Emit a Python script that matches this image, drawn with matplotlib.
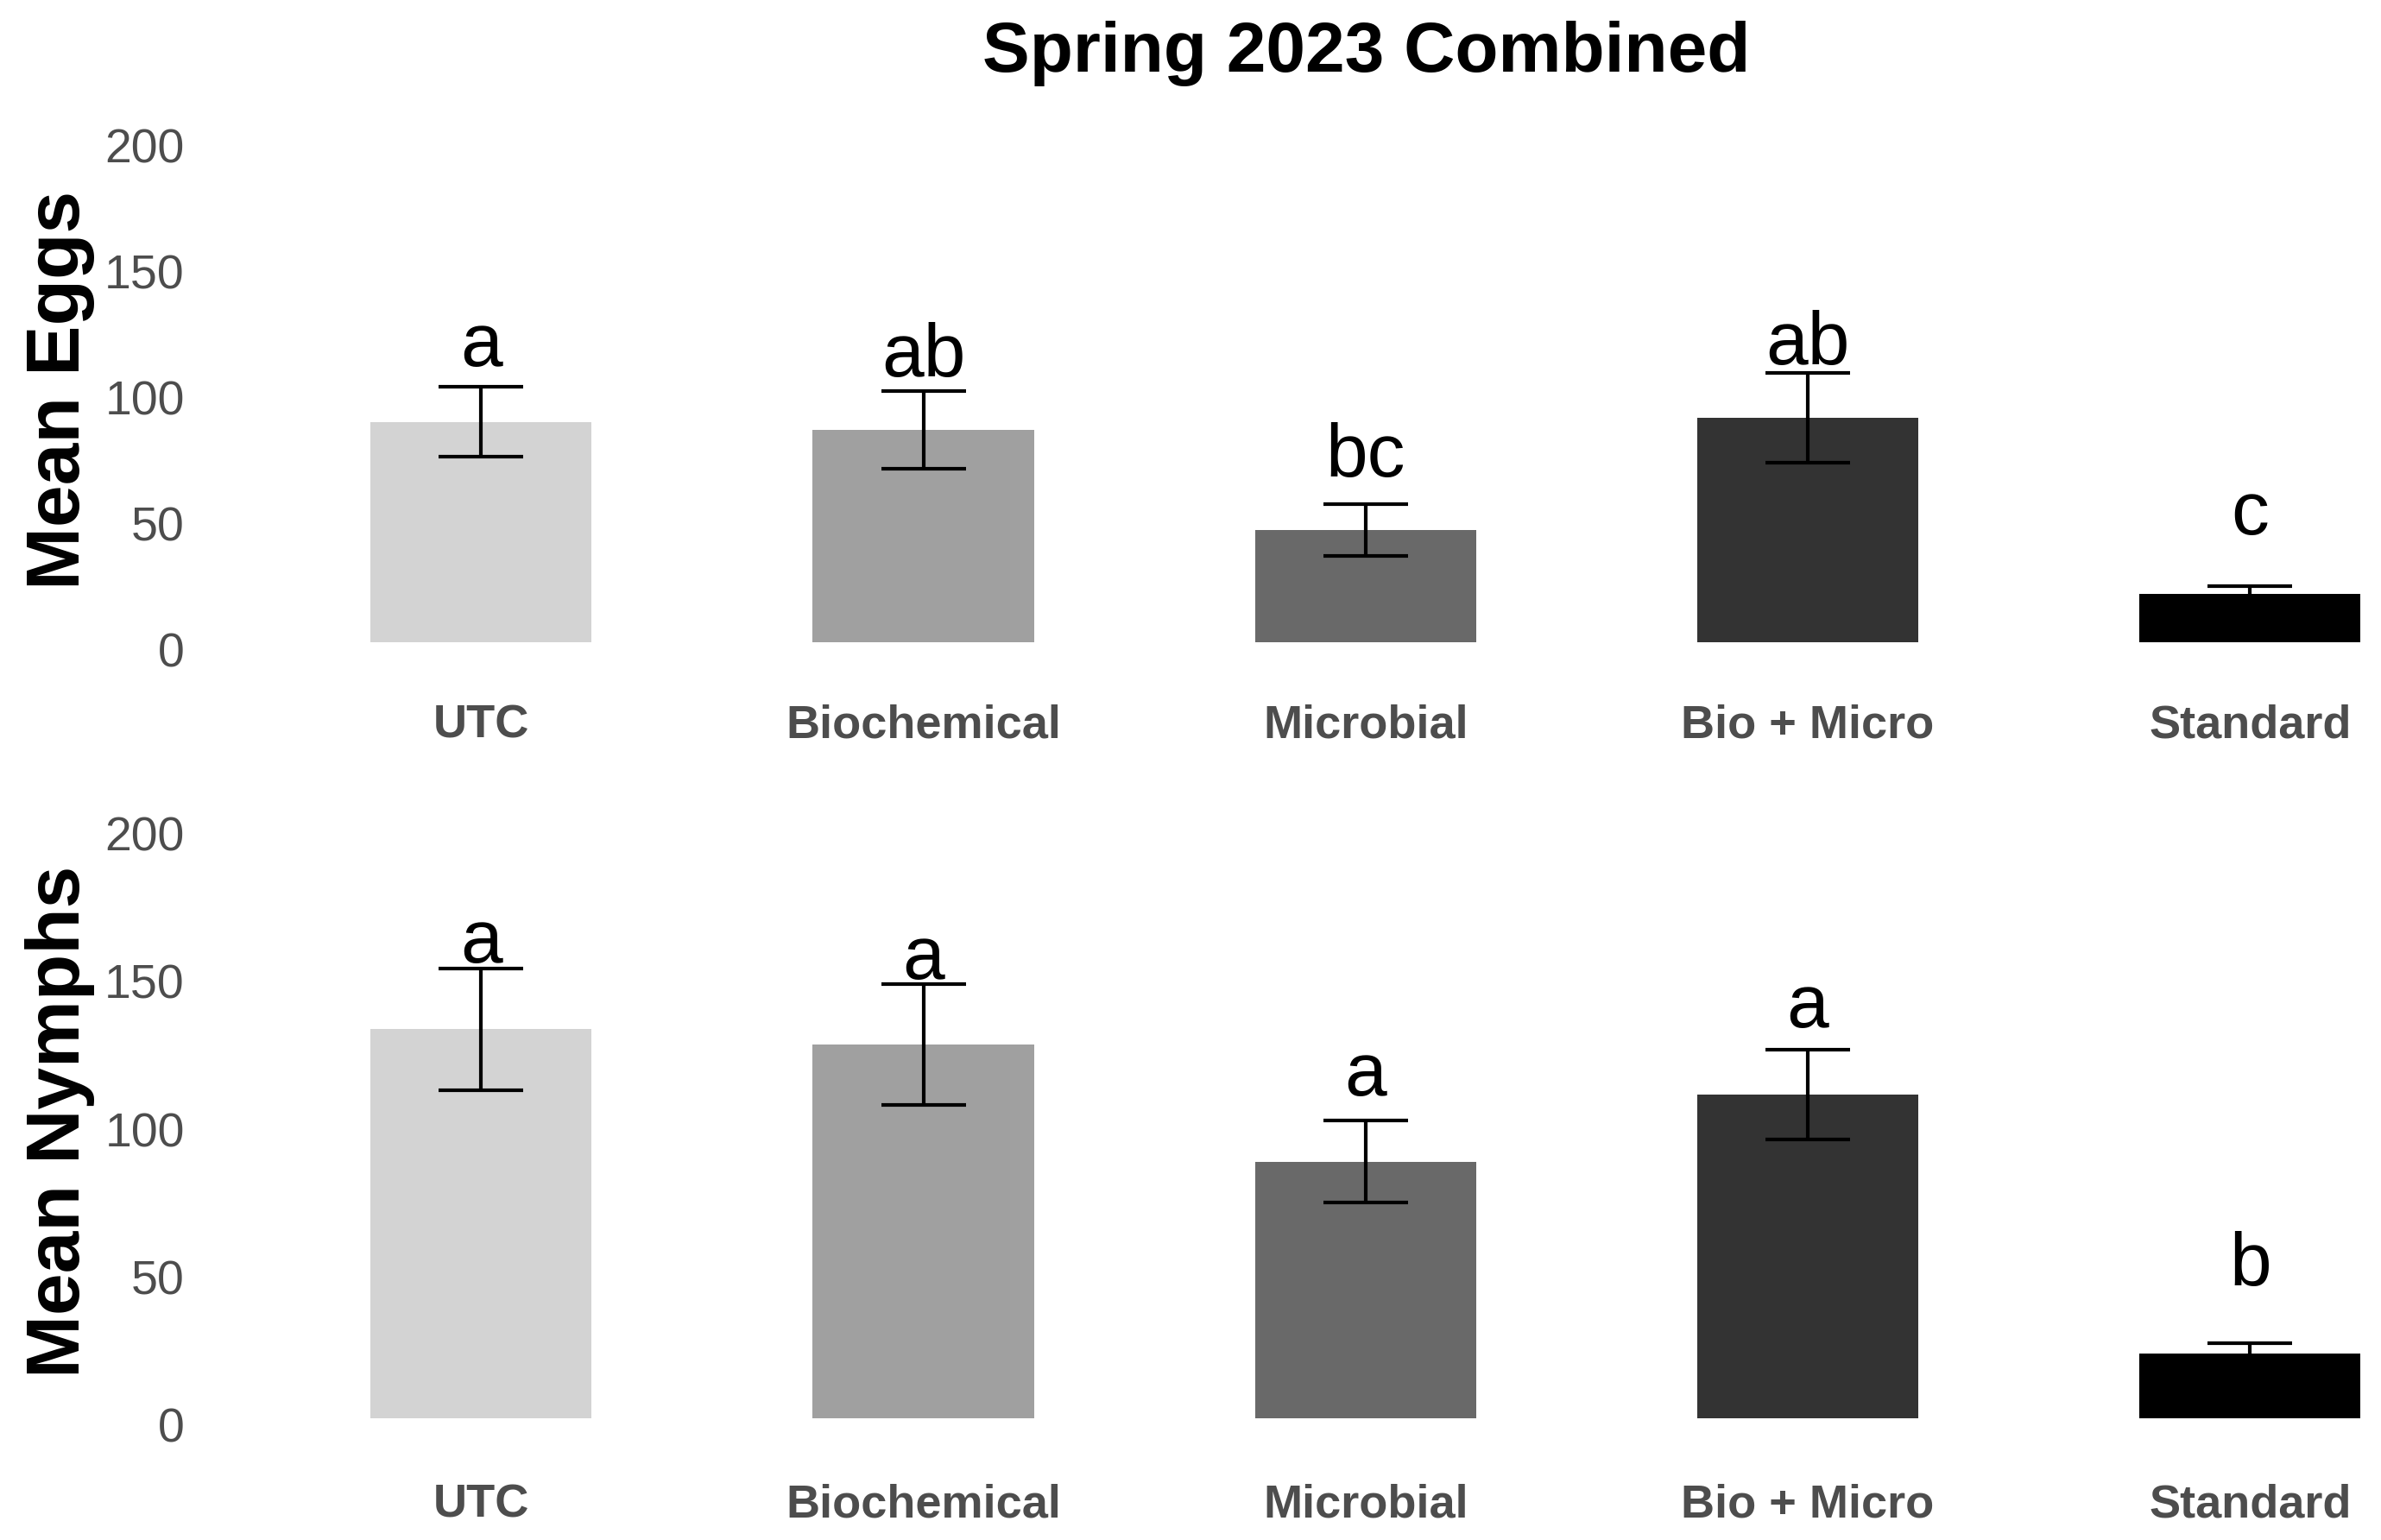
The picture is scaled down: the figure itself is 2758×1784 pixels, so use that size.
import numpy as np
import matplotlib
matplotlib.use("Agg")
import matplotlib.pyplot as plt
from matplotlib.transforms import ScaledTranslation

#%% Data
treatments = ["UTC", "Biochemical", "Microbial", "Bio + Micro", "Standard"]
bar_colors = ["#D3D3D3", "#A0A0A0", "#696969", "#333333", "#000000"]

eggs_mean = [87.5, 84.5, 44.7, 89.3, 19.3]
eggs_se = [13.9, 15.4, 10.3, 17.8, 3.0]
eggs_letters = ["a", "ab", "bc", "ab", "c"]
eggs_letter_y = [109.8, 105.6, 65.8, 110.4, 42.8]

nymphs_mean = [131.4, 126.3, 86.6, 109.3, 21.6]
nymphs_se = [20.6, 20.4, 13.9, 15.2, 3.7]
nymphs_letters = ["a", "a", "a", "a", "b"]
nymphs_letter_y = [154.0, 148.5, 109.0, 132.0, 44.8]

y_ticks = [0, 50, 100, 150, 200]

#%% Style
plt.rcParams["font.family"] = ["Liberation Sans", "DejaVu Sans"]
TICK_GREY = "#4D4D4D"

fig = plt.figure(figsize=(27.58, 17.84), dpi=100)
ax_eggs = fig.add_axes([0.0906, 0.5665, 0.9094, 0.3598])
ax_nymphs = fig.add_axes([0.0906, 0.0601, 0.9094, 0.4226])


def draw_panel(ax, means, ses, letters, letter_y, ylabel):
    x = np.arange(len(treatments))
    ax.bar(x, means, width=0.5, color=bar_colors, zorder=1)
    ax.errorbar(x, means, yerr=ses, fmt="none", ecolor="black",
                elinewidth=3, capsize=35, capthick=3, zorder=2)
    for xi, lab, ly in zip(x, letters, letter_y):
        ax.text(xi, ly, lab, ha="center", va="baseline", fontsize=63,
                color="black")

    ax.set_xlim(-0.6, 4.296)
    ax.set_ylim(-10, 210)
    ax.set_xticks(x)
    ax.set_xticklabels(treatments, fontsize=39, fontweight="bold",
                       color=TICK_GREY)
    ax.set_yticks(y_ticks)
    ax.set_yticklabels([str(t) for t in y_ticks], fontsize=40,
                       color=TICK_GREY)
    ax.tick_params(axis="x", length=0, pad=30)
    ax.tick_params(axis="y", length=0, pad=26)
    # tick numbers sit a little below their tick in the original
    shift = ScaledTranslation(0, -6 / 72, fig.dpi_scale_trans)
    for lbl in ax.get_yticklabels():
        lbl.set_verticalalignment("center_baseline")
        lbl.set_transform(lbl.get_transform() + shift)
    for side in ["top", "right", "bottom", "left"]:
        ax.spines[side].set_visible(False)

    ax.set_ylabel(ylabel, fontsize=63, fontweight="bold", color="black")
    ax.yaxis.set_label_coords(-0.0558, 0.5)


draw_panel(ax_eggs, eggs_mean, eggs_se, eggs_letters, eggs_letter_y,
           "Mean Eggs")
draw_panel(ax_nymphs, nymphs_mean, nymphs_se, nymphs_letters,
           nymphs_letter_y, "Mean Nymphs")

fig.text(0.5737, 0.965, "Spring 2023 Combined", ha="center", va="center",
         fontsize=59, fontweight="bold")

fig.savefig("out.png", dpi=100)
